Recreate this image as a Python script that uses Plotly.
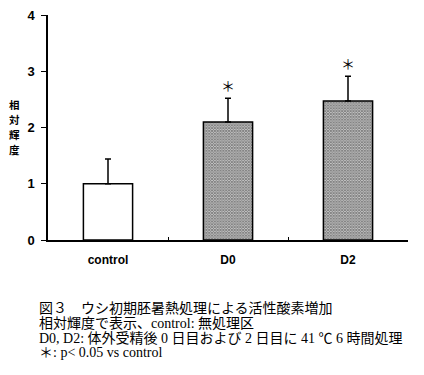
import plotly.graph_objects as go

categories = ["control", "D0", "D2"]
values = [1.0, 2.10, 2.47]
errors = [0.44, 0.42, 0.44]
significant = [False, True, True]
y_ticks = [0, 1, 2, 3, 4]
y_title = "相対輝度"
caption_lines = [
    "図３　ウシ初期胚暑熱処理による活性酸素増加",
    "相対輝度で表示、control: 無処理区",
    "D0, D2: 体外受精後 0 日目および 2 日目に 41 ℃ 6 時間処理",
    "＊: p< 0.05 vs control",
]

CJK = "Liberation Serif, Noto Sans CJK JP"
BOLD = "Liberation Sans, Noto Sans CJK JP"

# page body has an 8px margin; place the plot area at window px 48..408 x 15..240
OFF = 8
L, T = 48 - OFF, 15 - OFF
PW, PH = 360, 225

fig = go.Figure()
fig.add_trace(go.Bar(
    x=categories, y=values, width=0.41,
    marker=dict(
        color="white",
        line=dict(color="black", width=1.5),
        pattern=dict(shape=["" if not s else "x" for s in significant],
                     fgcolor="black", bgcolor="white", size=2, solidity=0.8),
    ),
    error_y=dict(type="data", symmetric=False, array=errors,
                 arrayminus=[0] * len(errors),
                 color="black", thickness=1.5, width=3),
    showlegend=False,
))

annotations = []
for c, v, e, s in zip(categories, values, errors, significant):
    if s:
        annotations.append(dict(x=c, y=v + e + 0.24, text="＊", showarrow=False,
                                font=dict(family="Noto Sans CJK JP", size=14, color="black"),
                                xanchor="center", yanchor="middle"))

title_y = [104, 119, 134, 149]
for ch, py in zip(y_title, title_y):
    annotations.append(dict(xref="paper", yref="paper", x=(14 - 48) / PW, y=(240 - py) / PH,
                            text=ch, showarrow=False, borderpad=0,
                            font=dict(family="Noto Sans CJK JP", size=10.5, color="black",
                                      weight="bold"),
                            xanchor="center", yanchor="middle"))

line_y = [308, 323, 338, 352]
for txt, py in zip(caption_lines, line_y):
    annotations.append(dict(xref="paper", yref="paper",
                            x=(37 - 48) / PW, y=(240 - py) / PH,
                            text=txt, showarrow=False,
                            font=dict(family=CJK, size=14, color="black"),
                            xanchor="left", yanchor="middle", align="left"))

fig.update_layout(
    width=424, height=375,
    margin=dict(l=L, r=424 - L - PW, t=T, b=375 - T - PH),
    paper_bgcolor="white", plot_bgcolor="white",
    bargap=0.59,
    annotations=annotations,
    xaxis=dict(showline=True, linecolor="black", linewidth=1.5,
               ticks="inside", tickson="boundaries", ticklen=3,
               tickcolor="black", tickwidth=1, automargin=False,
               tickfont=dict(family=BOLD, size=12, color="black", weight="bold"),
               ticklabelstandoff=8, showgrid=False, zeroline=False),
    yaxis=dict(range=[0, 4], tickvals=y_ticks, showline=True, linecolor="black",
               linewidth=1.5, ticks="outside", ticklen=5, tickcolor="black",
               automargin=False, ticklabeloverflow="allow",
               tickfont=dict(family=BOLD, size=13, color="black", weight="bold"),
               ticklabelstandoff=4, showgrid=False, zeroline=False),
)

fig.write_html("out.html")
